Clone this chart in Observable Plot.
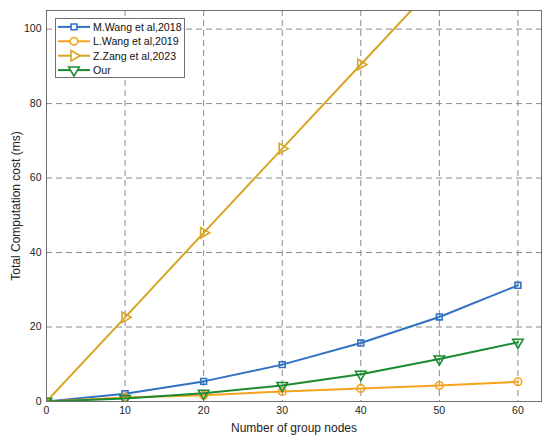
<!DOCTYPE html>
<html>
<head>
<meta charset="utf-8">
<script src="https://cdn.jsdelivr.net/npm/d3@7"></script>
<script src="https://cdn.jsdelivr.net/npm/@observablehq/plot@0.6"></script>
<style>
  html, body { margin: 0; padding: 0; background: #fff; }
  #chart svg { display: block; }
</style>
</head>
<body>
<div id="chart"></div>
<script>
const nodes = [0, 10, 20, 30, 40, 50, 60];
const mWang = [0, 2.1, 5.4, 9.9, 15.7, 22.7, 31.2];
const lWang = [0, 1.1, 1.7, 2.7, 3.5, 4.3, 5.3];
const zZang = [0, 22.6, 45.3, 67.9, 90.5, 113.1, 135.7];
const our = [0, 0.8, 2.2, 4.3, 7.3, 11.4, 15.9];

const seriesNames = ["M.Wang et al,2018", "L.Wang et al,2019", "Z.Zang et al,2023", "Our"];
const seriesValues = [mWang, lWang, zZang, our];
const seriesColors = ["#3272c2", "#f5a31c", "#d8a423", "#1b8a31"];
const seriesSymbols = ["square", "circle", "triangle", "triangle"];
const seriesRotate = [0, 0, 90, 180];
const seriesR = [3.3, 3.8, 3.9, 3.9];

const xTicks = [0, 10, 20, 30, 40, 50, 60];
const yTicks = [0, 20, 40, 60, 80, 100];

const rows = [];
seriesNames.forEach((name, i) => {
  nodes.forEach((n, j) => rows.push({series: name, i, x: n, y: seriesValues[i][j]}));
});

const marks = [
  Plot.gridY(yTicks, {stroke: "#8a8a8a", strokeOpacity: 1, strokeDasharray: "6,4", strokeWidth: 1}),
  Plot.gridX(xTicks, {stroke: "#8a8a8a", strokeOpacity: 1, strokeDasharray: "6,4", strokeWidth: 1}),
  Plot.axisX(xTicks, {tickSize: 0, tickPadding: 5, fontSize: 10.5, label: null}),
  Plot.axisX({label: "Number of group nodes", ticks: [], tickSize: 0, fontSize: 12, labelAnchor: "center", labelArrow: "none", labelOffset: 30}),
  Plot.axisY(yTicks, {tickSize: 0, tickPadding: 5, fontSize: 10.5, label: null}),
  Plot.axisY({label: "Total Computation cost (ms)", ticks: [], tickSize: 0, fontSize: 12, labelAnchor: "center", labelArrow: "none", labelOffset: 35}),
];
seriesNames.forEach((name, i) => {
  const d = rows.filter(r => r.i === i);
  marks.push(Plot.line(d, {x: "x", y: "y", stroke: seriesColors[i], strokeWidth: 2, clip: true}));
  marks.push(Plot.dot(d, {x: "x", y: "y", stroke: seriesColors[i], fill: "none", strokeWidth: 1.6,
    symbol: () => seriesSymbols[i], r: seriesR[i], rotate: seriesRotate[i], clip: true}));
});
marks.push(Plot.frame({stroke: "#707070", strokeWidth: 1}));

const svg = Plot.plot({
  width: 550,
  height: 441,
  marginLeft: 46,
  marginRight: 9,
  marginTop: 10,
  marginBottom: 40,
  style: {fontFamily: "'Liberation Sans', Arial, sans-serif", fontSize: "10.5px", color: "#222", background: "#fff"},
  x: {domain: [0, 63]},
  y: {domain: [0, 105]},
  symbol: {type: "identity"},
  marks
});

// legend
const g = d3.select(svg).append("g")
  .attr("font-family", "'Liberation Sans', Arial, sans-serif")
  .attr("font-size", 10.6).attr("text-anchor", "start");
g.append("rect").attr("x", 55.5).attr("y", 18.5).attr("width", 129).attr("height", 59)
  .attr("fill", "#fff").attr("stroke", "#707070").attr("stroke-width", 1);
const symMap = {square: d3.symbolSquare, circle: d3.symbolCircle, triangle: d3.symbolTriangle};
seriesNames.forEach((name, i) => {
  const y = 26.9 + i * 14.4;
  g.append("line").attr("x1", 58).attr("x2", 90).attr("y1", y).attr("y2", y)
    .attr("stroke", seriesColors[i]).attr("stroke-width", 2);
  g.append("path").attr("d", d3.symbol(symMap[seriesSymbols[i]], Math.PI * seriesR[i] * seriesR[i])())
    .attr("transform", `translate(74,${y}) rotate(${seriesRotate[i]})`)
    .attr("fill", "#fff").attr("stroke", seriesColors[i]).attr("stroke-width", 1.6);
  g.append("text").attr("x", 93).attr("y", y).attr("dy", "0.36em").attr("fill", "#111").text(name);
});

document.getElementById("chart").appendChild(svg);
</script>
</body>
</html>
